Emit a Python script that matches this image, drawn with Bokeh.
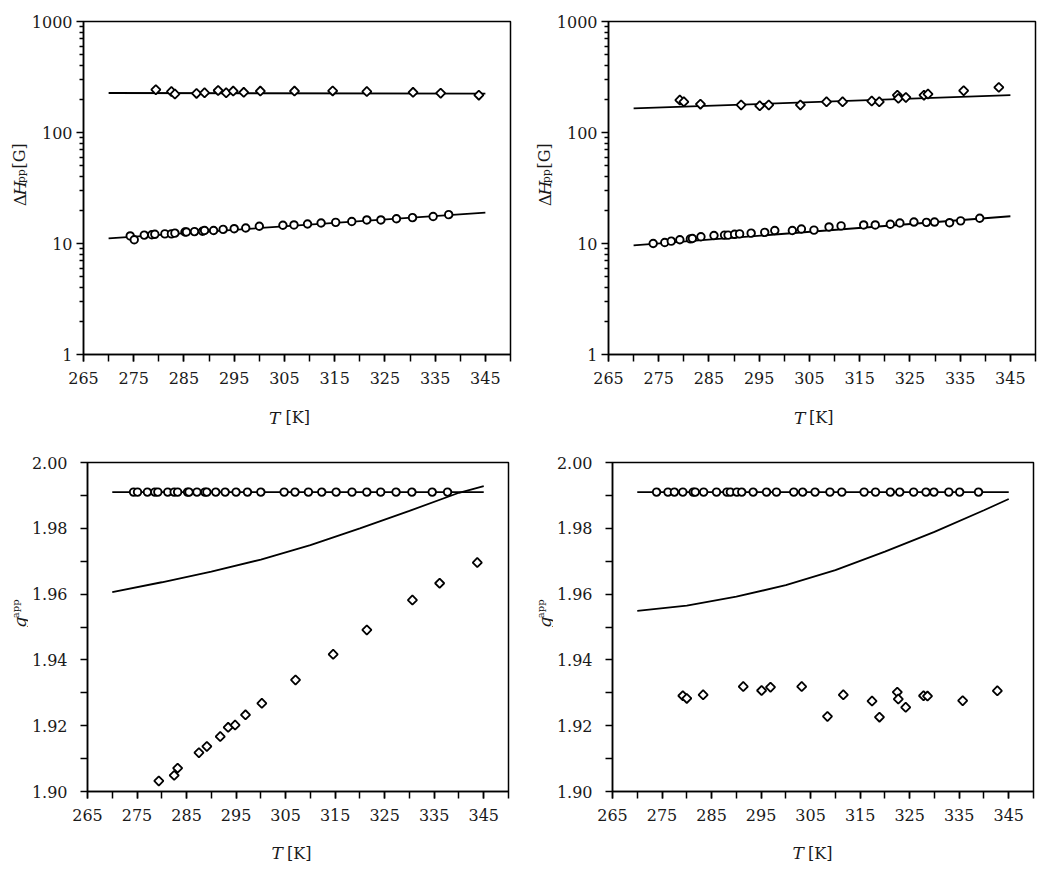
import numpy as np
from bokeh.plotting import figure
from bokeh.layouts import column, row
from bokeh.models import Range1d, FixedTicker, PrintfTickFormatter
from bokeh.core.properties import value
from bokeh.embed import file_html
from bokeh.resources import INLINE

# ---------------- data ----------------
# tick labels
X_MAJOR = [265, 275, 285, 295, 305, 315, 325, 335, 345]
X_MINOR = [265, 270, 275, 280, 285, 290, 295, 300, 305, 310, 315, 320, 325, 330, 335, 340, 345, 350]
LOG_MAJOR = [1, 10, 100, 1000]
LOG_MINOR = [2, 3, 4, 5, 6, 7, 8, 9, 20, 30, 40, 50, 60, 70, 80, 90, 200, 300, 400, 500, 600, 700, 800, 900]
G_MAJOR = [1.90, 1.92, 1.94, 1.96, 1.98, 2.00]
G_MINOR = [1.91, 1.93, 1.95, 1.97, 1.99]

# sample A (left column)
T_A_dia = [279.4, 282.5, 283.2, 287.5, 289.1, 291.8, 293.4, 294.8, 296.9, 300.2,
           307.0, 314.6, 321.4, 330.6, 336.1, 343.7]
dH_A_dia = [243, 234, 222, 225, 228, 239, 228, 236, 230, 236, 236, 237, 234, 230, 226, 217]
g_A_dia = [1.9032, 1.9049, 1.9071, 1.9118, 1.9137, 1.9167, 1.9195, 1.9202, 1.9233, 1.9268,
           1.9339, 1.9417, 1.9491, 1.9582, 1.9633, 1.9696]
T_A_cir = [274.3, 275.1, 277.1, 278.6, 279.2, 281.2, 282.5, 283.2, 285.2, 285.5,
           287.1, 288.7, 289.1, 290.9, 292.8, 295.0, 297.3, 300.0, 304.7, 306.9,
           309.6, 312.3, 315.2, 318.4, 321.4, 324.2, 327.3, 330.5, 334.6, 337.7]
dH_A_cir = [11.7, 10.8, 11.9, 12.0, 12.1, 12.2, 12.2, 12.4, 12.7, 12.7,
            12.8, 12.9, 13.1, 13.1, 13.4, 13.6, 13.8, 14.3, 14.6, 14.7,
            15.0, 15.3, 15.5, 15.8, 16.3, 16.3, 16.7, 17.1, 17.5, 18.2]
g_A_cir = [1.991, 1.991, 1.991, 1.991, 1.991, 1.991, 1.991, 1.991, 1.991, 1.991,
           1.991, 1.991, 1.991, 1.991, 1.991, 1.991, 1.991, 1.991, 1.991, 1.991,
           1.991, 1.991, 1.991, 1.991, 1.991, 1.991, 1.991, 1.991, 1.991, 1.991]

# sample B (right column)
T_B_dia = [279.2, 280.0, 283.3, 291.4, 295.1, 296.9, 303.2, 308.4, 311.6, 317.4,
           318.9, 322.5, 322.7, 324.2, 327.8, 328.6, 335.7, 342.7]
dH_B_dia = [196, 189, 180, 177, 174, 177, 177, 189, 189, 192,
            189, 217, 203, 207, 217, 222, 238, 255]
g_B_dia = [1.9291, 1.9283, 1.9294, 1.9319, 1.9307, 1.9317, 1.9319, 1.9228, 1.9294, 1.9275,
           1.9226, 1.9302, 1.9281, 1.9256, 1.9291, 1.9290, 1.9276, 1.9306]
T_B_cir = [273.9, 276.2, 277.5, 279.2, 281.3, 281.7, 283.4, 286.0, 288.1, 288.8,
           290.1, 291.1, 293.4, 296.1, 298.1, 301.6, 303.4, 305.9, 308.9, 311.3,
           315.8, 318.1, 321.1, 323.0, 325.8, 328.3, 329.9, 332.9, 335.1, 338.9]
dH_B_cir = [10.0, 10.2, 10.5, 10.8, 11.0, 11.1, 11.5, 11.8, 11.9, 11.9,
            12.1, 12.2, 12.4, 12.6, 13.1, 13.1, 13.5, 13.2, 14.1, 14.4,
            14.7, 14.7, 14.9, 15.3, 15.6, 15.5, 15.6, 15.4, 16.0, 16.9]
g_B_cir = [1.991, 1.991, 1.991, 1.991, 1.991, 1.991, 1.991, 1.991, 1.991, 1.991,
           1.991, 1.991, 1.991, 1.991, 1.991, 1.991, 1.991, 1.991, 1.991, 1.991,
           1.991, 1.991, 1.991, 1.991, 1.991, 1.991, 1.991, 1.991, 1.991, 1.991]

# fitted / simulated lines
T_fit = [270, 345]
dH_fit_A_dia = [227, 224]
dH_fit_A_cir = [11.1, 19.0]
dH_fit_B_dia = [165, 217]
dH_fit_B_cir = [9.6, 17.6]
g_fit_cir = [1.991, 1.991]
T_curve = [270, 280, 290, 300, 310, 320, 330, 340, 345]
g_curve_A = [1.9606, 1.9636, 1.9668, 1.9705, 1.9749, 1.9800, 1.9853, 1.9908, 1.9928]
g_curve_B = [1.9549, 1.9565, 1.9592, 1.9627, 1.9673, 1.9729, 1.9789, 1.9855, 1.9889]

# ---------------- style ----------------
FONT = "DejaVu Serif"
TXT = "#1a1a1a"
XMIN, XMAX = 265, 350


def make_fig(log, w, h, bl, br, bt, bb, y_standoff):
    kw = dict(width=w, height=h, output_backend="svg", toolbar_location=None, title=None,
              x_range=Range1d(XMIN, XMAX),
              min_border_left=bl, min_border_right=br, min_border_top=bt, min_border_bottom=bb,
              background_fill_color="white", border_fill_color="white")
    if log:
        kw.update(y_axis_type="log", y_range=Range1d(1, 1000))
    else:
        kw.update(y_range=Range1d(1.90, 2.00))
    p = figure(**kw)
    p.xgrid.visible = False
    p.ygrid.visible = False
    p.outline_line_color = "black"
    p.outline_line_width = 1.5
    p.outline_line_alpha = 1.0
    for ax in (p.xaxis[0], p.yaxis[0]):
        ax.axis_line_color = "black"
        ax.axis_line_width = 1.5
        ax.major_tick_line_color = "black"
        ax.minor_tick_line_color = "black"
        ax.major_tick_line_width = 1.5
        ax.minor_tick_line_width = 1.5
        ax.major_tick_in = 0
        ax.minor_tick_in = 0
        ax.major_tick_out = 7
        ax.major_label_text_font = FONT
        ax.major_label_text_font_size = "16px"
        ax.major_label_text_color = TXT
    xa = p.xaxis[0]
    xa.ticker = FixedTicker(ticks=X_MAJOR, minor_ticks=X_MINOR)
    xa.minor_tick_out = 7
    xa.major_label_standoff = 10
    ya = p.yaxis[0]
    ya.major_label_standoff = y_standoff
    if log:
        ya.ticker = FixedTicker(ticks=LOG_MAJOR, minor_ticks=LOG_MINOR)
        ya.formatter = PrintfTickFormatter(format="%d")
        ya.minor_tick_out = 4
    else:
        ya.ticker = FixedTicker(ticks=G_MAJOR, minor_ticks=G_MINOR)
        ya.formatter = PrintfTickFormatter(format="%.2f")
        ya.minor_tick_out = 7
    return p


def strip(x0, y0, w, h):
    """a bare text strip whose data coordinates are page pixels (y negated)"""
    s = figure(width=w, height=h, x_range=Range1d(x0, x0 + w), y_range=Range1d(-(y0 + h), -y0),
               min_border=0, min_border_left=0, min_border_right=0,
               min_border_top=0, min_border_bottom=0,
               toolbar_location=None, output_backend="svg", title=None,
               x_axis_location=None, y_axis_location=None,
               outline_line_color=None, background_fill_color="white", border_fill_color="white")
    s.xgrid.visible = False
    s.ygrid.visible = False
    return s


def put(s, px, py, t, size, style="normal", angle=0.0):
    s.text(x=[px], y=[-py], text=[t], text_font=value(FONT), text_font_size=value(f"{size}px"),
           text_font_style=value(style), angle=angle, text_align="left",
           text_baseline="alphabetic", text_color=TXT)


def ylabel_dH(s, dx):
    a = np.pi / 2
    put(s, 19.0 + dx, 218.5, "Δ", 17, "normal", a)
    put(s, 19.0 + dx, 206.0, "H", 17, "italic", a)
    put(s, 21.0 + dx, 191.5, "pp", 11, "normal", a)
    put(s, 19.0 + dx, 174.0, "[G]", 16, "normal", a)


def ylabel_g(s, dx):
    a = np.pi / 2
    put(s, 19.0 + dx, 633.0, "g", 17, "italic", a)
    put(s, 14.5 + dx, 621.5, "app", 10, "normal", a)


def xlabel_T(s, xT, xK, yb):
    put(s, xT, yb, "T", 17, "italic")
    put(s, xK, yb, "[K]", 16, "normal")


LINE = dict(line_color="black", line_width=1.8)
DIA = dict(marker="square", angle=np.pi / 4, size=6.5, fill_color="white", line_color="black", line_width=1.8)
CIR = dict(marker="circle", size=7.5, fill_color="white", line_color="black", line_width=1.9)

SW = 28      # width of the y-label strips
TOP_H = 394  # height of the top-row figures
BOT_Y = 436  # page y of the bottom row
BOT_H = 392  # height of the bottom-row figures

# ---- top-left ----  (figure at page x 28, y 0; frame at page 80..510 x 21..354)
p1 = make_fig(True, 525 - SW, TOP_H, 80 - SW, 15, 21, TOP_H - 354, 4)
p1.line(T_fit, dH_fit_A_dia, **LINE)
p1.line(T_fit, dH_fit_A_cir, **LINE)
p1.scatter(T_A_dia, dH_A_dia, **DIA)
p1.scatter(T_A_cir, dH_A_cir, **CIR)
s1 = strip(0, 0, SW, TOP_H)
ylabel_dH(s1, 0)

# ---- top-right ----  (figure at page x 553; frame at 605..1035)
p2 = make_fig(True, 520 - SW, TOP_H, 80 - SW, 10, 21, TOP_H - 354, 4)
p2.line(T_fit, dH_fit_B_dia, **LINE)
p2.line(T_fit, dH_fit_B_cir, **LINE)
p2.scatter(T_B_dia, dH_B_dia, **DIA)
p2.scatter(T_B_cir, dH_B_cir, **CIR)
s2 = strip(525, 0, SW, TOP_H)
ylabel_dH(s2, 525)

# x-label strip under the top row
sx1 = strip(0, TOP_H, 1045, BOT_Y - TOP_H)
xlabel_T(sx1, 268.5, 285.0, 417)
xlabel_T(sx1, 793.5, 808.5, 417)

# ---- bottom-left ----  (figure at page x 28, y 436; frame at 87..508 x 462..791)
p3 = make_fig(False, 525 - SW, BOT_H, 87 - SW, 17, 26, BOT_Y + BOT_H - 791, 13)
p3.line(T_fit, g_fit_cir, **LINE)
p3.line(T_curve, g_curve_A, **LINE)
p3.scatter(T_A_dia, g_A_dia, **DIA)
p3.scatter(T_A_cir, g_A_cir, **CIR)
s3 = strip(0, BOT_Y, SW, BOT_H)
ylabel_g(s3, 0)

# ---- bottom-right ----  (figure at page x 553; frame at 612..1033)
p4 = make_fig(False, 520 - SW, BOT_H, 87 - SW, 12, 26, BOT_Y + BOT_H - 791, 13)
p4.line(T_fit, g_fit_cir, **LINE)
p4.line(T_curve, g_curve_B, **LINE)
p4.scatter(T_B_dia, g_B_dia, **DIA)
p4.scatter(T_B_cir, g_B_cir, **CIR)
s4 = strip(525, BOT_Y, SW, BOT_H)
ylabel_g(s4, 525)

# x-label strip under the bottom row
sx2 = strip(0, BOT_Y + BOT_H, 1045, 870 - (BOT_Y + BOT_H))
xlabel_T(sx2, 271.0, 286.5, 852.5)
xlabel_T(sx2, 792.0, 807.5, 852.5)

layout = column(row(s1, p1, s2, p2), sx1, row(s3, p3, s4, p4), sx2)
open("out.html", "w").write(file_html(layout, INLINE))
